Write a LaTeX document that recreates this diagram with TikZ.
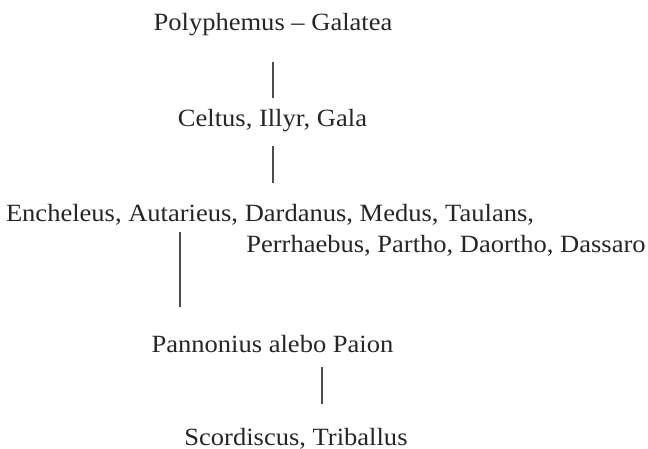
\documentclass[tikz,border=0pt]{standalone}
\usepackage{fontspec}
\setmainfont{Liberation Serif}[FakeStretch=1.07]
\begin{document}
\begin{tikzpicture}[x=1pt,y=-1pt,
  lbl/.style={inner sep=0pt,outer sep=0pt,anchor=base,font=\fontsize{24.8}{28}\selectfont,text=black!85},
  conn/.style={draw=black!70,line width=1.2pt}]
\useasboundingbox (0,0) rectangle (648,449);
\node[lbl] (poly) at (273,31) {Polyphemus – Galatea};
\node[lbl] (celt) at (272.5,127) {Celtus, Illyr, Gala};
\node[lbl] (ench) at (270,222) {Encheleus, Autarieus, Dardanus, Medus, Taulans,};
\node[lbl] (perr) at (446,253) {Perrhaebus, Partho, Daortho, Dassaro};
\node[lbl] (pann) at (272.5,352) {Pannonius alebo Paion};
\node[lbl] (scor) at (296,445) {Scordiscus, Triballus};
\coordinate (a1) at (273,62); \coordinate (a2) at (273,98);
\coordinate (b1) at (273,146); \coordinate (b2) at (273,183);
\coordinate (c1) at (180,232); \coordinate (c2) at (180,307);
\coordinate (d1) at (322,367); \coordinate (d2) at (322,404);
\draw[conn] (a1) -- (a2);
\draw[conn] (b1) -- (b2);
\draw[conn] (c1) -- (c2);
\draw[conn] (d1) -- (d2);
\end{tikzpicture}
\end{document}
